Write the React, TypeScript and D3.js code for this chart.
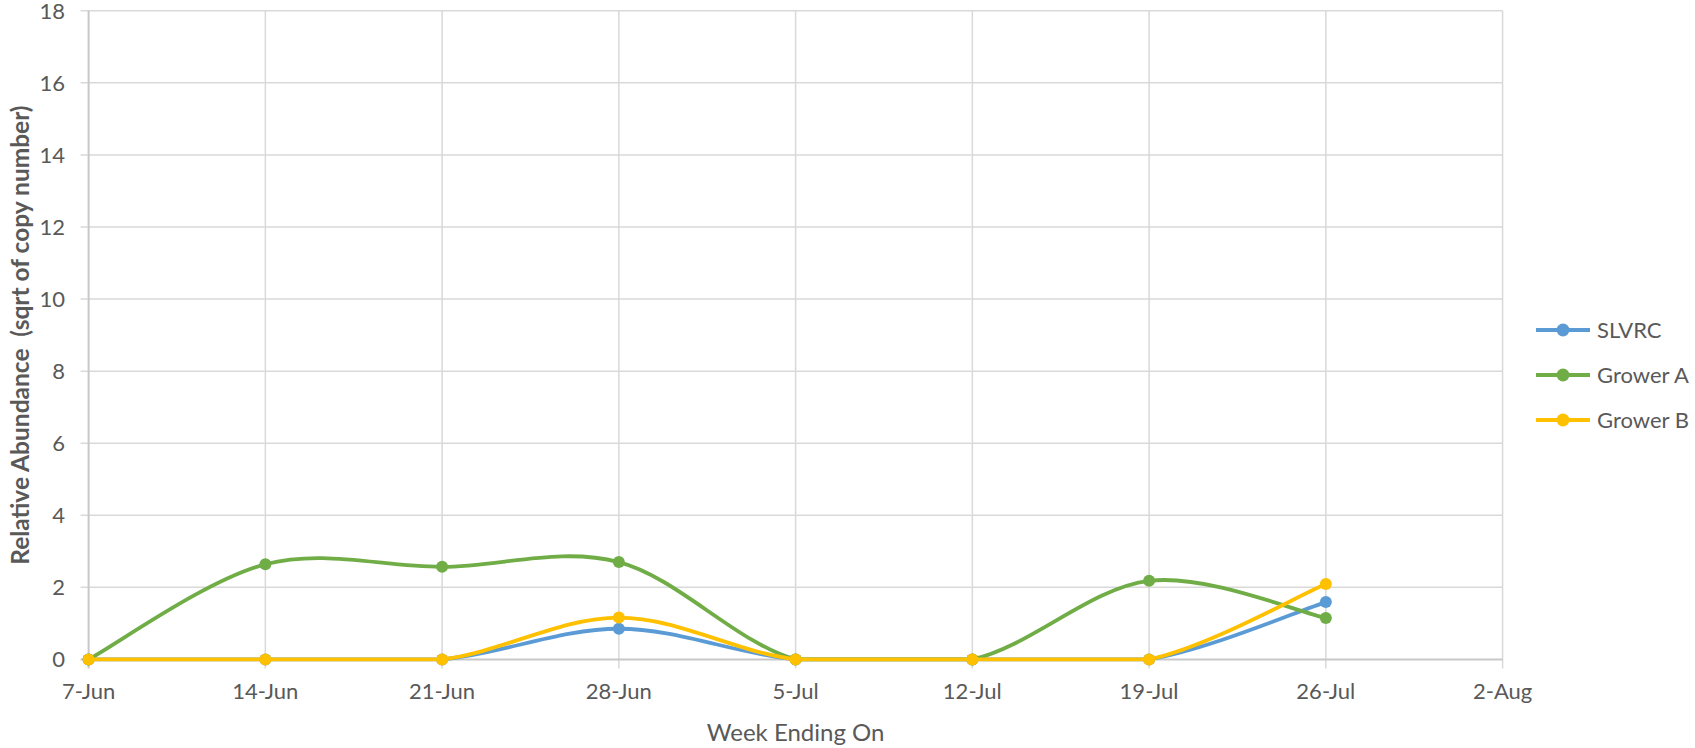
import React, { useEffect, useRef } from 'react';
import * as d3 from 'd3';

// week ending dates and the three series (sqrt of copy number)
const weeks = ['2020-06-07', '2020-06-14', '2020-06-21', '2020-06-28', '2020-07-05', '2020-07-12', '2020-07-19', '2020-07-26'];
const slvrc = [0, 0, 0, 0.85, 0, 0, 0, 1.59];
const growerA = [0, 2.64, 2.57, 2.7, 0, 0, 2.18, 1.15];
const growerB = [0, 0, 0, 1.16, 0, 0, 0, 2.09];
const seriesNames = ['SLVRC', 'Grower A', 'Grower B'];
const seriesColors = ['#5B9BD5', '#70AD47', '#FFC000'];
const yTicks = [0, 2, 4, 6, 8, 10, 12, 14, 16, 18];
const xStart = '2020-06-07';
const xWeeks = 8;

// Excel-ish smoothed line: catmull-rom beziers, flat where two points share a value
function smoothPath(pts: [number, number][]): string {
  const p = d3.path();
  p.moveTo(pts[0][0], pts[0][1]);
  for (let i = 0; i < pts.length - 1; i++) {
    const p0 = pts[Math.max(0, i - 1)];
    const p1 = pts[i];
    const p2 = pts[i + 1];
    const p3 = pts[Math.min(pts.length - 1, i + 2)];
    if (Math.abs(p1[1] - p2[1]) < 0.5) {
      p.lineTo(p2[0], p2[1]);
      continue;
    }
    const c1x = p1[0] + (p2[0] - p0[0]) / 6;
    const c1y = p1[1] + (p2[1] - p0[1]) / 6;
    const c2x = p2[0] - (p3[0] - p1[0]) / 6;
    const c2y = p2[1] - (p3[1] - p1[1]) / 6;
    p.bezierCurveTo(c1x, c1y, c2x, c2y, p2[0], p2[1]);
  }
  return p.toString();
}

const App: React.FC = () => {
  const svgRef = useRef<SVGSVGElement>(null);

  useEffect(() => {
    if (!svgRef.current) return;
    const width = 1695;
    const height = 748;
    const plot = { left: 88.6, right: 1502.6, top: 10.8, bottom: 659.4 };
    const font = 'Lato, "Open Sans", sans-serif';
    const textColor = '#595959';

    const svg = d3.select(svgRef.current);
    svg.selectAll('*').remove();
    svg.attr('width', width).attr('height', height);

    const parse = d3.timeParse('%Y-%m-%d');
    const dates = weeks.map(w => parse(w) as Date);
    const start = parse(xStart) as Date;
    const xTicks = d3.range(xWeeks + 1).map(i => d3.timeDay.offset(start, 7 * i));

    const x = d3.scaleTime()
      .domain([xTicks[0], xTicks[xTicks.length - 1]])
      .range([plot.left, plot.right]);
    const y = d3.scaleLinear().domain([0, 18]).range([plot.bottom, plot.top]);

    const fmt = d3.timeFormat('%-d-%b');

    // gridlines
    const grid = svg.append('g');
    grid.selectAll('.hgrid')
      .data(yTicks.filter(t => t > 0))
      .enter().append('line')
      .attr('x1', plot.left - 8)
      .attr('x2', plot.right)
      .attr('y1', d => y(d))
      .attr('y2', d => y(d))
      .attr('stroke', '#d9d9d9')
      .attr('stroke-width', 1.5);

    grid.selectAll('.vgrid')
      .data(xTicks.slice(1))
      .enter().append('line')
      .attr('x1', d => x(d))
      .attr('x2', d => x(d))
      .attr('y1', plot.top)
      .attr('y2', plot.bottom + 9)
      .attr('stroke', '#d9d9d9')
      .attr('stroke-width', 1.5);

    // axis lines
    grid.append('line')
      .attr('x1', plot.left).attr('x2', plot.left)
      .attr('y1', plot.top).attr('y2', plot.bottom + 9)
      .attr('stroke', '#c8c8c8').attr('stroke-width', 2);
    grid.append('line')
      .attr('x1', plot.left - 8).attr('x2', plot.right)
      .attr('y1', plot.bottom).attr('y2', plot.bottom)
      .attr('stroke', '#c8c8c8').attr('stroke-width', 2);

    // tick labels
    svg.append('g').selectAll('text')
      .data(yTicks)
      .enter().append('text')
      .attr('x', 65)
      .attr('y', d => y(d))
      .attr('dy', '0.35em')
      .attr('text-anchor', 'end')
      .style('font-family', font)
      .style('font-size', '22px')
      .style('fill', textColor)
      .text(d => d);

    svg.append('g').selectAll('text')
      .data(xTicks)
      .enter().append('text')
      .attr('x', d => x(d))
      .attr('y', plot.bottom + 32)
      .attr('dy', '0.35em')
      .attr('text-anchor', 'middle')
      .style('font-family', font)
      .style('font-size', '22px')
      .style('fill', textColor)
      .text(d => fmt(d));

    // axis titles
    svg.append('text')
      .attr('x', (plot.left + plot.right) / 2)
      .attr('y', 741)
      .attr('text-anchor', 'middle')
      .style('font-family', font)
      .style('font-size', '24px')
      .style('fill', textColor)
      .text('Week Ending On');

    svg.append('text')
      .attr('transform', `translate(29,${(plot.top + plot.bottom) / 2}) rotate(-90)`)
      .attr('text-anchor', 'middle')
      .style('font-family', font)
      .style('font-size', '24.5px')
      .style('font-weight', 'bold')
      .style('fill', textColor)
      .style('white-space', 'pre')
      .text('Relative Abundance  (sqrt of copy number)');

    // series
    const allSeries = [slvrc, growerA, growerB];
    allSeries.forEach((vals, si) => {
      const g = svg.append('g');
      const pts = vals.map((v, i) => [x(dates[i]), y(v)] as [number, number]);
      g.append('path')
        .attr('fill', 'none')
        .attr('stroke', seriesColors[si])
        .attr('stroke-width', 3.8)
        .attr('stroke-linejoin', 'round')
        .attr('stroke-linecap', 'round')
        .attr('d', smoothPath(pts));
      g.selectAll('circle')
        .data(vals)
        .enter().append('circle')
        .attr('cx', (_, i) => x(dates[i]))
        .attr('cy', d => y(d))
        .attr('r', 6)
        .attr('fill', seriesColors[si]);
    });

    // legend
    const legend = svg.append('g');
    const legendY = [330, 375, 420];
    seriesNames.forEach((name, i) => {
      const row = legend.append('g').attr('transform', `translate(0,${legendY[i]})`);
      row.append('line')
        .attr('x1', 1536).attr('x2', 1590)
        .attr('stroke', seriesColors[i]).attr('stroke-width', 3.8);
      row.append('circle')
        .attr('cx', 1563).attr('r', 6.5)
        .attr('fill', seriesColors[i]);
      row.append('text')
        .attr('x', 1597)
        .attr('dy', '0.35em')
        .style('font-family', font)
        .style('font-size', '22px')
        .style('fill', textColor)
        .text(name);
    });
  }, []);

  return (
    <svg ref={svgRef} style={{ position: 'absolute', left: 0, top: 0, background: '#fff' }}></svg>
  );
};

export default App;
